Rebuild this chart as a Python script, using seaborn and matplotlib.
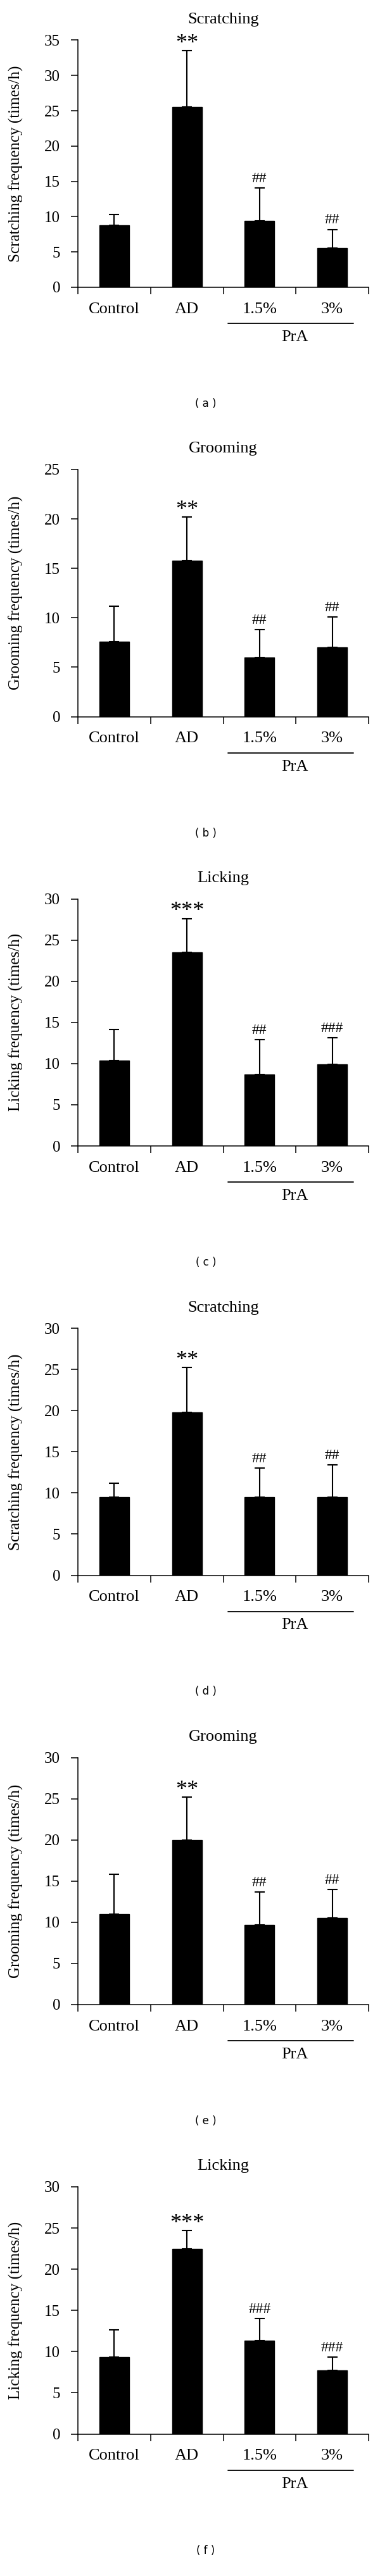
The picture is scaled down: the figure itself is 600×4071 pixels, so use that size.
import numpy as np
import pandas as pd
import matplotlib
import matplotlib.pyplot as plt
import seaborn as sns

matplotlib.use('agg')

groups = ['Control', 'AD', '1.5%', '3%']

# values: mean and upper SD per group
scratch1_mean = [8.8, 25.5, 9.4, 5.6]
scratch1_sd = [1.5, 8.0, 4.7, 2.6]
groom1_mean = [7.6, 15.8, 6.0, 7.0]
groom1_sd = [3.6, 4.4, 2.8, 3.1]
lick1_mean = [10.4, 23.5, 8.7, 9.9]
lick1_sd = [3.7, 4.1, 4.2, 3.2]
scratch2_mean = [9.5, 19.8, 9.5, 9.5]
scratch2_sd = [1.7, 5.4, 3.5, 3.9]
groom2_mean = [11.0, 20.0, 9.7, 10.5]
groom2_sd = [4.8, 5.2, 4.0, 3.5]
lick2_mean = [9.3, 22.5, 11.3, 7.7]
lick2_sd = [3.3, 2.2, 2.7, 1.6]

titles = ['Scratching', 'Grooming', 'Licking', 'Scratching', 'Grooming', 'Licking']
ylabels = ['Scratching frequency (times/h)', 'Grooming frequency (times/h)',
           'Licking frequency (times/h)', 'Scratching frequency (times/h)',
           'Grooming frequency (times/h)', 'Licking frequency (times/h)']
ymax = [35, 25, 30, 30, 30, 30]
marks = [['', '**', '##', '##'], ['', '**', '##', '##'], ['', '***', '##', '###'],
         ['', '**', '##', '##'], ['', '**', '##', '##'], ['', '***', '###', '###']]
panel_tags = ['( a )', '( b )', '( c )', '( d )', '( e )', '( f )']

means = [scratch1_mean, groom1_mean, lick1_mean, scratch2_mean, groom2_mean, lick2_mean]
sds = [scratch1_sd, groom1_sd, lick1_sd, scratch2_sd, groom2_sd, lick2_sd]

sns.set_theme(style='ticks')
plt.rcParams['font.family'] = ['Liberation Serif', 'DejaVu Serif']

W, H = 600, 4071
ph = H / 6.0
fig = plt.figure(figsize=(W / 100, H / 100), dpi=100)

ax_l, ax_r = 123, 582
ax_top, ax_zero = 63.5, 454

for i in range(6):
    y0 = i * ph
    ax = fig.add_axes([ax_l / W, (H - (y0 + ax_zero)) / H,
                       (ax_r - ax_l) / W, (ax_zero - ax_top) / H])
    df = pd.DataFrame({'group': groups, 'value': means[i]})
    sns.barplot(data=df, x='group', y='value', color='black', saturation=1,
                width=0.41, edgecolor='black', errorbar=None, ax=ax)
    m = np.array(means[i])
    s = np.array(sds[i])
    ax.errorbar(np.arange(4), m, yerr=[np.zeros(4), s], fmt='none',
                ecolor='black', elinewidth=1.5, capsize=5.5, capthick=1.5)
    for k in range(4):
        if marks[i][k]:
            big = '*' in marks[i][k]
            ax.annotate(marks[i][k], (k, m[k] + s[k]), xytext=(0, -4 if big else 3),
                        textcoords='offset points', ha='center', va='bottom',
                        fontsize=26 if big else 17, color='black')

    ax.set_xlim(-0.5, 3.5)
    ax.set_ylim(0, ymax[i])
    ax.set_yticks(np.arange(0, ymax[i] + 1, 5))
    ax.set_xticks(range(4))
    ax.set_xticklabels(groups, fontsize=19)
    ax.set_xticks(np.arange(-0.5, 4, 1), minor=True)
    ax.tick_params(axis='x', which='major', length=0, pad=17, colors='black')
    ax.tick_params(axis='x', which='minor', length=8, width=1.1, direction='out', color='black')
    ax.tick_params(axis='y', length=8, width=1.1, direction='out', pad=12,
                   labelsize=18, colors='black')
    ax.set_xlabel('')
    ax.set_ylabel(ylabels[i], fontsize=18, color='black')
    ax.yaxis.set_label_coords((37 - ax_l) / (ax_r - ax_l), 0.5)
    sns.despine(ax=ax)
    for sp in ['left', 'bottom']:
        ax.spines[sp].set_linewidth(1.1)
        ax.spines[sp].set_color('black')
    ax.set_facecolor('white')

    ax.text(0.5, (ax_zero - 31) / (ax_zero - ax_top), titles[i], transform=ax.transAxes,
            ha='center', va='center', fontsize=19, color='black')

    # PrA bracket under the two treatment groups
    tr = ax.get_xaxis_transform()
    ly = -(511 - ax_zero) / (ax_zero - ax_top)
    ax.plot([1.565, 3.29], [ly, ly], color='black', lw=1.3, transform=tr, clip_on=False)
    ax.text(2.48, -(533 - ax_zero) / (ax_zero - ax_top), 'PrA', transform=tr,
            ha='center', va='center', fontsize=19, color='black')

    fig.text(325 / W, (H - (y0 + 638)) / H, panel_tags[i], ha='center', va='center',
             fontsize=12, family=['DejaVu Sans'], color='black')

fig.savefig('out.png', dpi=100, facecolor='white')
